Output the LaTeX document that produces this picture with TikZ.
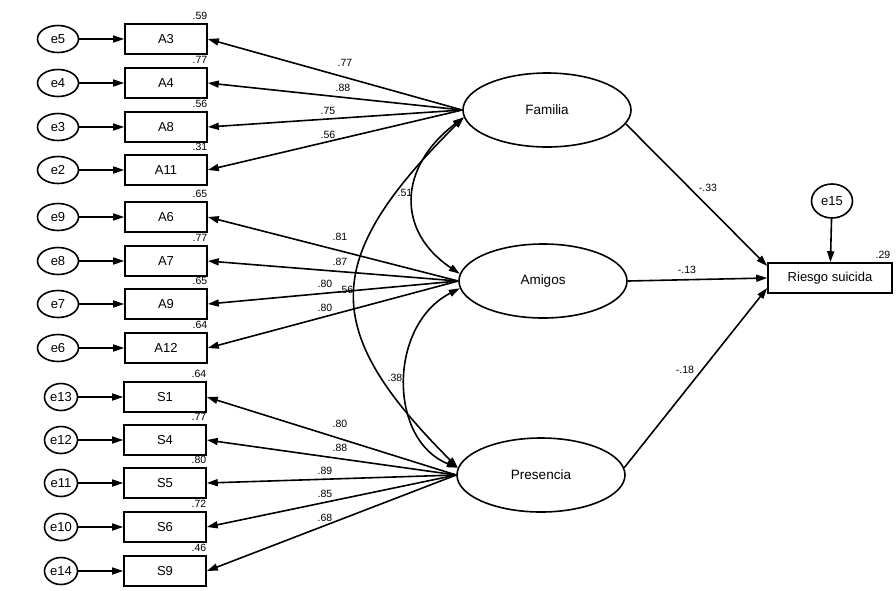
\documentclass[tikz,border=0pt]{standalone}
\usepackage{fontspec}
\setmainfont{Liberation Sans}
\usetikzlibrary{arrows.meta,shapes.geometric}
\begin{document}
\begin{tikzpicture}[x=1pt,y=-1pt,line width=1.6pt,
 tip/.style={-{Triangle[length=11pt,width=7pt]}},
 dtip/.style={{Triangle[length=11pt,width=7pt]}-{Triangle[length=11pt,width=7pt]}},
 obs/.style={draw,rectangle,minimum width=82pt,minimum height=30pt,inner sep=0pt,font=\fontsize{13}{15}\selectfont},
 err/.style={draw,ellipse,minimum width=41pt,minimum height=27pt,inner sep=0pt,font=\fontsize{13}{15}\selectfont},
 errs/.style={err,minimum width=33pt},
 lat/.style={draw,ellipse,minimum width=168pt,minimum height=74pt,inner sep=0pt,font=\fontsize{13.5}{15}\selectfont},
 lbl/.style={font=\fontsize{10.5}{12}\selectfont,inner sep=0pt},
 rsq/.style={lbl,anchor=east}]
\useasboundingbox (0,0) rectangle (896,590);
% latent factors
\node[lat] (fam) at (547,110) {Familia};
\node[lat] (ami) at (543,281) {Amigos};
\node[lat] (pre) at (541,475) {Presencia};
% outcome
\node[obs,minimum width=124pt] (ris) at (830,278) {Riesgo suicida};
\node[err,minimum height=34pt] (e15) at (832,201) {e15};
\node[rsq] (r29) at (891,255) {.29};
% observed items
\node[obs] (A3) at (166,39) {A3};
\node[obs] (A4) at (166,83) {A4};
\node[obs] (A8) at (166,127) {A8};
\node[obs] (A11) at (166,170) {A11};
\node[obs] (A6) at (166,217) {A6};
\node[obs] (A7) at (166,261) {A7};
\node[obs] (A9) at (166,304) {A9};
\node[obs] (A12) at (166,348) {A12};
\node[obs] (S1) at (165,397) {S1};
\node[obs] (S4) at (165,440) {S4};
\node[obs] (S5) at (165,483) {S5};
\node[obs] (S6) at (165,527) {S6};
\node[obs] (S9) at (165,571) {S9};
% errors
\node[err] (e5) at (58,39) {e5};
\node[err] (e4) at (58,83) {e4};
\node[err] (e3) at (58,127) {e3};
\node[err] (e2) at (58,170) {e2};
\node[err] (e9) at (58,217) {e9};
\node[err] (e8) at (58,261) {e8};
\node[err] (e7) at (58,304) {e7};
\node[err] (e6) at (58,348) {e6};
\node[errs] (e13) at (61,397) {e13};
\node[errs] (e12) at (61,440) {e12};
\node[errs] (e11) at (61,483) {e11};
\node[errs] (e10) at (61,527) {e10};
\node[errs] (e14) at (61,571) {e14};
% R squared
\node[rsq] (q1) at (208,16) {.59};
\node[rsq] (q2) at (208,60) {.77};
\node[rsq] (q3) at (208,104) {.56};
\node[rsq] (q4) at (208,147) {.31};
\node[rsq] (q5) at (208,194) {.65};
\node[rsq] (q6) at (208,238) {.77};
\node[rsq] (q7) at (208,281) {.65};
\node[rsq] (q8) at (208,325) {.64};
\node[rsq] (q9) at (207,374) {.64};
\node[rsq] (q10) at (207,417) {.77};
\node[rsq] (q11) at (207,460) {.80};
\node[rsq] (q12) at (207,504) {.72};
\node[rsq] (q13) at (207,548) {.46};
% error arrows
\foreach \e/\b in {e5/A3,e4/A4,e3/A8,e2/A11,e9/A6,e8/A7,e7/A9,e6/A12,e13/S1,e12/S4,e11/S5,e10/S6,e14/S9}
  \draw[tip] (\e) -- (\b);
\draw[tip] (e15) -- (ris);
% loadings
\foreach \b in {A3,A4,A8,A11} \draw[tip] (fam.west) -- (\b.east);
\foreach \b in {A6,A7,A9,A12} \draw[tip] (ami.west) -- (\b.east);
\foreach \b in {S1,S4,S5,S6,S9} \draw[tip] (pre.west) -- (\b.east);
% loading labels
\node[lbl] (l1) at (345,63) {.77};
\node[lbl] (l2) at (343,88) {.88};
\node[lbl] (l3) at (328,111) {.75};
\node[lbl] (l4) at (328,135) {.56};
\node[lbl] (l5) at (340,237) {.81};
\node[lbl] (l6) at (340,262) {.87};
\node[lbl] (l7) at (325,284) {.80};
\node[lbl] (l8) at (325,308) {.80};
\node[lbl] (l9) at (340,424) {.80};
\node[lbl] (l10) at (340,448) {.88};
\node[lbl] (l11) at (325,471) {.89};
\node[lbl] (l12) at (325,494) {.85};
\node[lbl] (l13) at (325,518) {.68};
% structural paths
\draw[tip] (fam.-10) -- ([yshift=12pt]ris.west);
\draw[tip] (ami.east) -- (ris.west);
\draw[tip] (pre.5) -- ([yshift=-10pt]ris.west);
\node[lbl] (p1) at (708,188) {-.33};
\node[lbl] (p2) at (687,270) {-.13};
\node[lbl] (p3) at (685,370) {-.18};
% correlations
\draw[dtip] (fam.185) .. controls (397,168) and (397,232) .. (ami.175);
\draw[dtip] (fam.185) .. controls (320,260) and (320,330) .. (pre.175);
\draw[dtip] (ami.185) .. controls (388,325) and (388,440) .. (pre.175);
\node[lbl] (c1) at (405,193) {.51};
\node[lbl] (c2) at (346,290) {.56};
\node[lbl] (c3) at (395,378) {.38};
\end{tikzpicture}
\end{document}
